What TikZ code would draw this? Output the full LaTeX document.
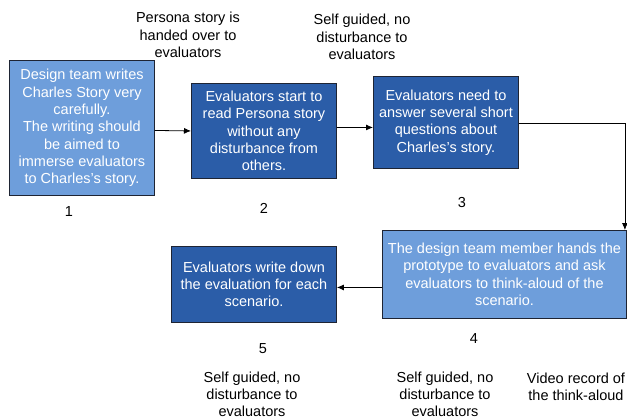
\documentclass[tikz,border=0pt]{standalone}
\usepackage{fontspec}
\setmainfont{Liberation Sans}
\usetikzlibrary{arrows.meta}
\definecolor{stepLight}{HTML}{6E9EDB}
\definecolor{stepDark}{HTML}{2B5DA8}
\definecolor{stepEdge}{HTML}{1E2433}
\begin{document}
\begin{tikzpicture}[x=1bp,y=-1bp,
  every node/.style={font=\fontsize{14.5bp}{17.3bp}\selectfont, inner sep=0pt},
  boxbase/.style={draw=stepEdge, line width=0.9bp, text=white, align=center, anchor=north west},
  lightbox/.style={boxbase, fill=stepLight},
  darkbox/.style={boxbase, fill=stepDark},
  note/.style={align=center, text=black},
  arr/.style={draw=black, line width=0.8bp, -{Latex[length=7bp,width=6bp]}}
]
\useasboundingbox (0,0) rectangle (627,419);

% process boxes
\node[lightbox, minimum width=145bp, minimum height=135bp] (b1) at (9,60)
  {Design team writes\\Charles Story very\\carefully.\\The writing should\\be aimed to\\immerse evaluators\\to Charles's story.};
\node[darkbox, minimum width=145bp, minimum height=95bp] (b2) at (191,83)
  {Evaluators start to\\read Persona story\\without any\\disturbance from\\others.};
\node[darkbox, minimum width=145bp, minimum height=92bp] (b3) at (373,76)
  {Evaluators need to\\answer several short\\questions about\\Charles's story.};
\node[lightbox, minimum width=244bp, minimum height=88bp] (b4) at (382,230)
  {The design team member hands the\\prototype to evaluators and ask\\evaluators to think-aloud of the\\scenario.};
\node[darkbox, minimum width=165bp, minimum height=76bp] (b5) at (171,246)
  {Evaluators write down\\the evaluation for each\\scenario.};

% step numbers
\node[note] (n1) at (69,212) {1};
\node[note] (n2) at (264,208) {2};
\node[note] (n3) at (462,202) {3};
\node[note] (n4) at (474,339) {4};
\node[note] (n5) at (263,349) {5};

% annotations
\node[note] (t1) at (188,35) {Persona story is\\handed over to\\evaluators};
\node[note] (t2) at (362,37) {Self guided, no\\disturbance to\\evaluators};
\node[note] (t5) at (252,394.5) {Self guided, no\\disturbance to\\evaluators};
\node[note] (t4) at (445,394.5) {Self guided, no\\disturbance to\\evaluators};
\node[note] (t6) at (576,387) {Video record of\\the think-aloud};

% connectors
\draw[arr] ([yshift=-2.5bp]b1.east) -- (b2.west);
\draw[arr] ([yshift=3.5bp]b2.east) -- ([yshift=-5bp]b3.west);
\draw[arr] ([yshift=-1bp]b3.east) -| ([xshift=-2bp]b4.north east);
\draw[arr] ([yshift=-13bp]b4.west) -- ([yshift=-3bp]b5.east);
\end{tikzpicture}
\end{document}
